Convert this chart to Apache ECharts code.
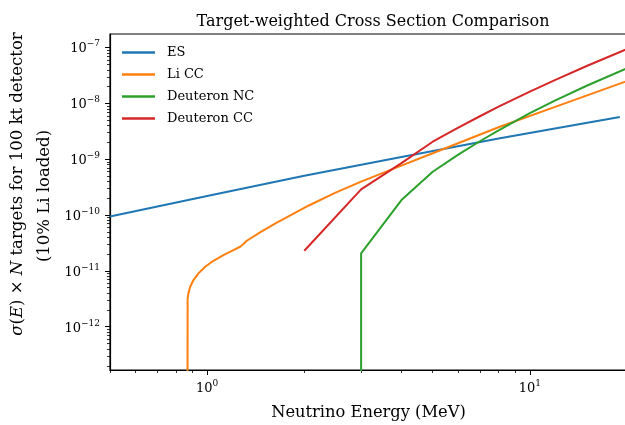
<!DOCTYPE html>
<html>
<head>
<meta charset="utf-8">
<script src="https://cdn.jsdelivr.net/npm/echarts@6.0.0/dist/echarts.min.js"></script>
<style>
	html, body { margin: 0; padding: 0; background: #fff; }
	#chart-panel { width: 625px; height: 425px; }
</style>
</head>
<body>
<div id="chart-panel"></div>
<script>
// neutrino energy (MeV) and target-weighted cross section
var esEnergy = [0.5, 1, 2, 4, 8, 19];
var esValue = [9.4e-11, 2.2e-10, 5.05e-10, 1.1e-9, 2.35e-9, 5.7e-9];

var liEnergy = [0.869, 0.870, 0.875, 0.886, 0.907, 0.940, 0.986, 1.046, 1.123, 1.206, 1.265, 1.296, 1.327, 1.459, 1.623, 2.059, 2.49, 3.0, 3.96, 5, 8.07, 12.4, 20];
var liValue = [1e-14, 3.2e-12, 3.96e-12, 5.2e-12, 6.86e-12, 9.04e-12, 1.19e-11, 1.52e-11, 1.92e-11, 2.36e-11, 2.71e-11, 3.03e-11, 3.47e-11, 4.88e-11, 7.01e-11, 1.47e-10, 2.5e-10, 3.98e-10, 7.52e-10, 1.28e-9, 3.82e-9, 9.33e-9, 2.52e-8];

var dncEnergy = [3, 3, 4, 5, 6, 7, 8, 10, 12, 15, 20];
var dncValue = [1e-14, 2.06e-11, 1.86e-10, 5.97e-10, 1.21e-9, 2.10e-9, 3.30e-9, 6.67e-9, 1.13e-8, 2.07e-8, 4.25e-8];

var dccEnergy = [2, 3, 4, 5, 6, 7, 8, 10, 12, 15, 20];
var dccValue = [2.3e-11, 2.89e-10, 8.5e-10, 2.06e-9, 3.68e-9, 5.89e-9, 8.73e-9, 1.63e-8, 2.64e-8, 4.67e-8, 9.44e-8];

var seriesNames = ['ES', 'Li CC', 'Deuteron NC', 'Deuteron CC'];
var seriesColors = ['#1f77b4', '#ff7f0e', '#2ca02c', '#d62728'];

// axis limits and tick exponents
var xMin = 0.5, xMax = 20;
var yMin = 1.68e-13, yMax = 1.75e-7;
var xMajorExp = [0, 1];
var yMajorExp = [-12, -11, -10, -9, -8, -7];

var fontName = 'DejaVu Serif';

function toLog(energy, value) {
	var res = [];
	for (var i = 0; i < energy.length; i++) {
		res.push([Math.log10(energy[i]), Math.log10(value[i])]);
	}
	return res;
}

// minor ticks at 2..9 x 10^n inside the range
function minorTicks(lo, hi) {
	var res = [];
	for (var n = Math.floor(Math.log10(lo)) - 1; n <= Math.ceil(Math.log10(hi)); n++) {
		for (var k = 2; k <= 9; k++) {
			var v = k * Math.pow(10, n);
			if (v >= lo * 0.9999 && v <= hi * 1.0001) res.push(Math.log10(v));
		}
	}
	return res;
}

function powLabel(val) {
	var e = Math.round(val);
	return '{b|10}{s|' + String(e).replace('-', '\u2212') + '}';
}

var labelRich = {
	b: { fontFamily: fontName, fontSize: 13, color: '#000', verticalAlign: 'bottom' },
	s: { fontFamily: fontName, fontSize: 9, color: '#000', verticalAlign: 'bottom', padding: [0, 0, 7, 0] }
};

var nameRich = {
	i: { fontFamily: fontName, fontSize: 16.5, fontStyle: 'italic', color: '#000' },
	r: { fontFamily: fontName, fontSize: 16.5, color: '#000' }
};

var dom = document.getElementById('chart-panel');
var myChart = echarts.init(dom);

var lineData = [toLog(esEnergy, esValue), toLog(liEnergy, liValue), toLog(dncEnergy, dncValue), toLog(dccEnergy, dccValue)];
var series = [];
for (var i = 0; i < seriesNames.length; i++) {
	series.push({
		name: seriesNames[i],
		type: 'line',
		xAxisIndex: 0,
		yAxisIndex: 0,
		data: lineData[i],
		showSymbol: false,
		symbol: 'none',
		clip: true,
		lineStyle: { color: seriesColors[i], width: 2 },
		itemStyle: { color: seriesColors[i] }
	});
}

var option = {
	animation: false,
	backgroundColor: '#fff',
	title: {
		text: 'Target-weighted Cross Section Comparison',
		left: 368,
		top: 9,
		textAlign: 'center',
		textStyle: { fontFamily: fontName, fontSize: 16, fontWeight: 'normal', color: '#000' }
	},
	legend: {
		orient: 'vertical',
		left: 122,
		top: 45.5,
		padding: 0,
		itemWidth: 33,
		itemHeight: 2.4,
		itemGap: 8,
		icon: 'rect',
		data: seriesNames,
		textStyle: { fontFamily: fontName, fontSize: 13, color: '#000', lineHeight: 14, padding: [0, 0, 0, 7] }
	},
	grid: {
		left: 110,
		right: -2,
		top: 34,
		bottom: 55,
		show: true,
		borderColor: '#000',
		borderWidth: 1.2,
		containLabel: false,
		outerBoundsMode: 'none'
	},
	xAxis: [{
		type: 'value',
		position: 'bottom',
		min: Math.log10(xMin),
		max: Math.log10(xMax),
		name: 'Neutrino Energy (MeV)',
		nameLocation: 'middle',
		nameGap: 35,
		nameTextStyle: { fontFamily: fontName, fontSize: 16.3, color: '#000' },
		axisLine: { show: true, onZero: false, lineStyle: { color: '#000', width: 1.2 } },
		axisTick: { show: true, length: 5, customValues: xMajorExp, lineStyle: { color: '#000', width: 1 } },
		axisLabel: { show: true, margin: 9, customValues: xMajorExp, formatter: powLabel, rich: labelRich },
		splitLine: { show: false }
	}, {
		type: 'value',
		position: 'bottom',
		min: Math.log10(xMin),
		max: Math.log10(xMax),
		axisLine: { show: false, onZero: false },
		axisTick: { show: true, length: 3, customValues: minorTicks(xMin, xMax), lineStyle: { color: '#000', width: 0.8 } },
		axisLabel: { show: false },
		splitLine: { show: false }
	}],
	yAxis: [{
		type: 'value',
		position: 'left',
		min: Math.log10(yMin),
		max: Math.log10(yMax),
		name: '{i|\u03c3}{r|(}{i|E}{r|) \u00d7 }{i|N}{r| targets for 100 kt detector}',
		nameLocation: 'middle',
		nameGap: 84,
		nameRotate: 90,
		nameTextStyle: { fontFamily: fontName, fontSize: 16.5, color: '#000', padding: [0, 0, 0, 36], rich: nameRich },
		axisLine: { show: true, onZero: false, lineStyle: { color: '#000', width: 1.2 } },
		axisTick: { show: true, length: 5, customValues: yMajorExp, lineStyle: { color: '#000', width: 1 } },
		axisLabel: { show: true, margin: 10, customValues: yMajorExp, formatter: powLabel, rich: labelRich },
		splitLine: { show: false }
	}, {
		type: 'value',
		position: 'left',
		min: Math.log10(yMin),
		max: Math.log10(yMax),
		name: '(10% Li loaded)',
		nameLocation: 'middle',
		nameGap: 57,
		nameRotate: 90,
		nameTextStyle: { fontFamily: fontName, fontSize: 16.5, color: '#000', padding: [0, 0, 0, 12] },
		axisLine: { show: false, onZero: false },
		axisTick: { show: true, length: 3, customValues: minorTicks(yMin, yMax), lineStyle: { color: '#000', width: 0.8 } },
		axisLabel: { show: false },
		splitLine: { show: false }
	}],
	series: series
};
myChart.setOption(option);
</script>
</body>
</html>
